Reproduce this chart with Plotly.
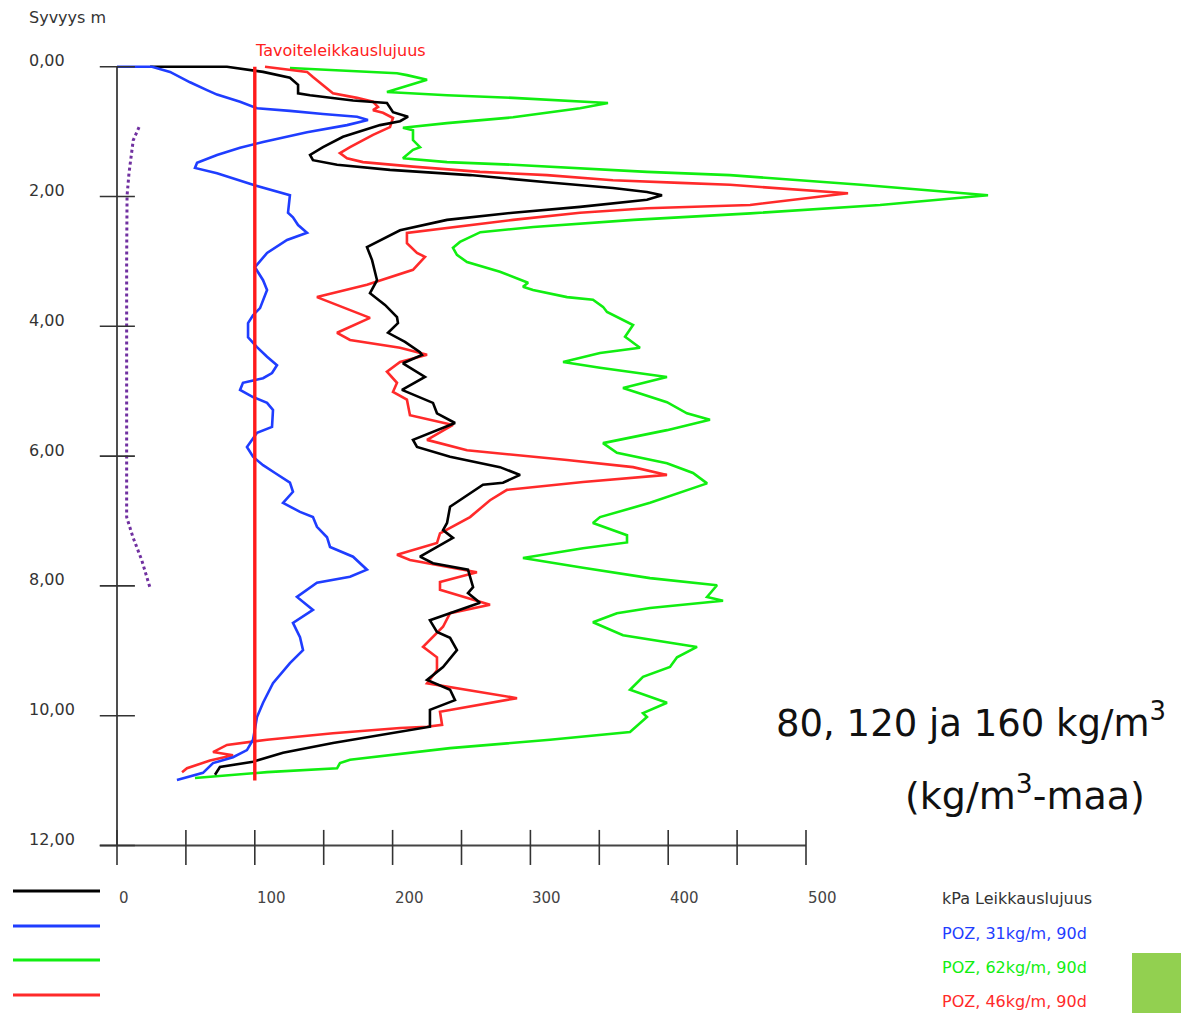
import plotly.graph_objects as go

# ---------------- data (kPa, depth m) ----------------
black_profile = [(24.0,0.00),(79.8,0.00),(106.0,0.08),(125.5,0.17),(131.4,0.28),(131.4,0.41),(140.1,0.44),(171.3,0.52),(195.9,0.56),(200.3,0.70),(211.2,0.77),(205.4,0.84),(190.9,0.90),(164.0,1.08),(149.5,1.24),(140.1,1.36),(142.2,1.44),(159.7,1.51),(198.1,1.59),(256.2,1.67),(312.0,1.78),(359.9,1.87),(384.6,1.93),(395.5,1.98),(384.6,2.05),(336.0,2.16),(287.4,2.25),(239.5,2.36),(205.4,2.52),(181.4,2.78),(185.1,2.98),(188.7,3.29),(183.6,3.49),(194.5,3.67),(203.2,3.86),(203.9,3.95),(196.7,4.10),(209.0,4.24),(219.9,4.40),(221.3,4.44),(207.5,4.57),(223.5,4.78),(206.8,4.98),(229.3,5.18),(232.2,5.34),(245.3,5.49),(214.8,5.75),(217.7,5.86),(241.7,6.01),(277.9,6.17),(292.5,6.29),(280.1,6.41),(265.6,6.44),(248.9,6.68),(241.7,6.78),(239.5,7.03),(236.6,7.14),(243.8,7.26),(219.9,7.55),(229.3,7.65),(254.7,7.75),(258.4,8.02),(254.7,8.11),(263.4,8.26),(241.7,8.42),(227.1,8.53),(232.2,8.71),(241.7,8.80),(246.7,8.99),(236.6,9.25),(225.0,9.45),(241.7,9.60),(245.3,9.76),(227.1,9.91),(227.1,10.17),(205.4,10.25),(156.7,10.42),(120.5,10.57),(98.7,10.71),(74.7,10.79),(71.1,10.91)]

blue_profile = [(0,0),(25.4,0),(38.5,0.08),(53.0,0.24),(65.3,0.36),(72.6,0.43),(89.3,0.54),(101.6,0.64),(125.5,0.68),(149.5,0.73),(174.2,0.77),(182.1,0.82),(166.9,0.90),(137.9,1.01),(106.0,1.16),(89.3,1.25),(72.6,1.36),(58.1,1.48),(56.6,1.56),(72.6,1.64),(98.7,1.82),(120.5,1.95),(125.5,1.98),(124.1,2.25),(127.7,2.32),(131.4,2.44),(137.9,2.56),(123.4,2.67),(108.9,2.87),(100.1,3.09),(106.0,3.29),(108.9,3.44),(106.0,3.59),(103.8,3.72),(98.7,3.83),(95.1,3.95),(95.1,4.17),(101.6,4.32),(108.9,4.47),(116.1,4.60),(112.5,4.72),(106.0,4.80),(91.4,4.87),(89.3,4.98),(98.7,5.09),(108.9,5.18),(113.2,5.29),(112.5,5.55),(101.6,5.64),(94.3,5.86),(98.7,6.01),(106.0,6.14),(114.7,6.26),(125.5,6.41),(127.7,6.55),(120.5,6.72),(132.8,6.86),(142.2,6.94),(145.1,7.09),(152.4,7.25),(154.6,7.40),(171.3,7.55),(181.4,7.75),(169.1,7.86),(145.1,7.95),(130.6,8.17),(142.2,8.37),(127.7,8.57),(132.8,8.79),(135.0,8.99),(125.5,9.19),(113.2,9.50),(106.0,9.80),(101.6,10.02),(98.7,10.37),(94.3,10.53),(84.2,10.64),(69.7,10.73),(62.4,10.88),(43.5,10.99)]

green_profile = [(125.5,0.02),(203.2,0.10),(210.4,0.13),(225.0,0.20),(195.9,0.39),(239.5,0.44),(287.4,0.48),(336.0,0.54),(356.3,0.56),(336.0,0.64),(287.4,0.78),(239.5,0.87),(207.5,0.94),(214.8,0.98),(214.8,1.13),(219.9,1.24),(214.8,1.28),(207.5,1.41),(239.5,1.47),(287.4,1.51),(336.0,1.56),(384.6,1.62),(444.8,1.67),(539.9,1.82),(632.1,1.98),(553.7,2.13),(459.7,2.26),(374.9,2.36),(302.2,2.47),(263.7,2.55),(248.9,2.70),(243.8,2.79),(246.7,2.90),(254.0,3.01),(277.9,3.16),(292.5,3.29),(298.3,3.33),(294.6,3.39),(301.9,3.44),(326.6,3.55),(345.4,3.59),(352.7,3.70),(355.6,3.78),(374.5,3.98),(368.7,4.16),(379.5,4.33),(350.5,4.41),(323.7,4.55),(350.5,4.64),(399.1,4.78),(367.2,4.95),(399.1,5.17),(413.6,5.34),(430.3,5.44),(399.1,5.60),(352.7,5.80),(362.8,5.95),(399.1,6.11),(418.0,6.26),(428.2,6.42),(386.8,6.72),(350.5,6.94),(345.4,7.03),(370.1,7.22),(370.1,7.33),(338.2,7.42),(294.6,7.57),(338.2,7.72),(386.8,7.88),(435.4,7.99),(428.2,8.17),(439.8,8.23),(386.8,8.34),(362.8,8.42),(345.4,8.56),(367.2,8.76),(420.9,8.94),(406.4,9.10),(401.3,9.25),(381.7,9.40),(372.3,9.60),(399.1,9.80),(381.7,9.96),(384.6,10.02),(372.3,10.25),(314.2,10.37),(241.7,10.50),(169.1,10.68),(161.8,10.73),(159.7,10.81),(108.9,10.87),(56.6,10.96)]

red_profile = [(107.4,0.00),(127.7,0.05),(137.9,0.08),(142.2,0.16),(149.5,0.28),(156.7,0.41),(174.2,0.48),(185.8,0.54),(189.4,0.62),(185.8,0.67),(193.0,0.71),(200.3,0.79),(198.1,0.93),(185.8,1.05),(169.1,1.24),(161.8,1.33),(166.9,1.41),(178.5,1.47),(214.8,1.54),(263.4,1.62),(312.0,1.67),(359.9,1.75),(408.6,1.79),(444.8,1.82),(530.5,1.95),(459.4,2.13),(384.6,2.18),(336.0,2.25),(287.4,2.36),(239.5,2.48),(210.4,2.56),(210.4,2.72),(217.7,2.87),(223.5,2.93),(214.8,3.13),(181.4,3.36),(145.1,3.55),(183.6,3.87),(159.7,4.10),(169.1,4.21),(205.4,4.33),(225.0,4.44),(205.4,4.55),(195.9,4.70),(203.2,4.87),(200.3,5.01),(210.4,5.13),(212.6,5.37),(243.8,5.52),(225.0,5.75),(254.0,5.91),(326.6,6.06),(374.5,6.17),(399.1,6.29),(338.2,6.40),(283.0,6.52),(270.7,6.68),(256.2,6.94),(239.5,7.14),(234.4,7.19),(232.2,7.34),(203.2,7.52),(212.6,7.60),(261.2,7.79),(234.4,7.94),(234.4,8.06),(270.7,8.29),(241.7,8.42),(236.6,8.63),(222.1,8.94),(232.2,9.10),(232.2,9.30),(225.0,9.50),(290.3,9.73),(234.4,9.94),(235.9,10.14),(225.0,10.17),(205.4,10.19),(156.7,10.27),(108.9,10.37),(79.8,10.45),(69.7,10.56),(84.2,10.61),(67.5,10.69),(50.8,10.81),(47.2,10.87)]

purple_profile = [(16.0,0.93),(11.8,1.13),(8.7,1.64),(7.3,1.99),(7.0,3.0),(7.0,6.94),(11.6,7.25),(17.9,7.60),(24.0,8.03)]

target_kpa = 100
target_depth = [0.0, 11.0]

depth_ticks = [0, 2, 4, 6, 8, 10, 12]
depth_labels = ["0,00", "2,00", "4,00", "6,00", "8,00", "10,00", "12,00"]
kpa_minor_ticks = [0, 50, 100, 150, 200, 250, 300, 350, 400, 450, 500]
kpa_labels = [0, 100, 200, 300, 400, 500]

legend_names = ["kPa Leikkauslujuus", "POZ, 31kg/m, 90d", "POZ, 62kg/m, 90d", "POZ, 46kg/m, 90d"]

# ---------------- styling ----------------
W, H = 1181, 1013
C_BLACK = "#000000"
C_BLUE = "#1f3dff"
C_GREEN = "#11ee11"
C_RED = "#ff2a2a"
C_PURPLE = "#7030a0"
FONT = "DejaVu Sans"

def pxx(x):
    return x / W

def pxy(y):
    return 1 - y / H

fig = go.Figure()

def add_profile(profile, color, width=2.6):
    xs = [p[0] for p in profile]
    ys = [p[1] for p in profile]
    fig.add_trace(go.Scatter(x=xs, y=ys, mode="lines",
                             line=dict(color=color, width=width),
                             showlegend=False, hoverinfo="skip"))

add_profile(green_profile, C_GREEN)
add_profile(red_profile, C_RED)
add_profile(black_profile, C_BLACK)
add_profile(blue_profile, C_BLUE)

fig.add_trace(go.Scatter(x=[p[0] for p in purple_profile], y=[p[1] for p in purple_profile],
                         mode="lines", line=dict(color=C_PURPLE, width=3, dash="dot"),
                         showlegend=False, hoverinfo="skip"))

fig.add_trace(go.Scatter(x=[target_kpa, target_kpa], y=target_depth, mode="lines",
                         line=dict(color="#ff1a1a", width=3.4),
                         showlegend=False, hoverinfo="skip"))

shapes = []
AX = "#222222"
shapes.append(dict(type="line", xref="x", yref="y", x0=0, x1=0, y0=0, y1=12,
                   line=dict(color=AX, width=1.6)))
shapes.append(dict(type="line", xref="x", yref="y", x0=-12.5, x1=500, y0=12, y1=12,
                   line=dict(color="#444444", width=2.2)))
for d in depth_ticks:
    shapes.append(dict(type="line", xref="x", yref="y", x0=-12.5, x1=13, y0=d, y1=d,
                       line=dict(color="#333333", width=1.6)))
for k in kpa_minor_ticks:
    shapes.append(dict(type="line", xref="x", yref="y", x0=k, x1=k, y0=11.76, y1=12.3,
                       line=dict(color="#333333", width=1.6)))

legend_colors = [C_BLACK, C_BLUE, C_GREEN, C_RED]
swatch_y = [891, 926, 960, 995]
for c, yy in zip(legend_colors, swatch_y):
    shapes.append(dict(type="line", xref="paper", yref="paper", x0=pxx(13), x1=pxx(100),
                       y0=pxy(yy), y1=pxy(yy), line=dict(color=c, width=3)))

shapes.append(dict(type="rect", xref="paper", yref="paper", x0=pxx(1132), x1=pxx(1181),
                   y0=pxy(1013), y1=pxy(953), fillcolor="#92d050", line=dict(width=0)))

annotations = []
annotations.append(dict(text="Syvyys m", xref="paper", yref="paper", x=pxx(27), y=pxy(17),
                        xanchor="left", yanchor="middle", showarrow=False,
                        font=dict(family=FONT, size=16, color="#333333")))
for d, lab in zip(depth_ticks, depth_labels):
    annotations.append(dict(text=lab, xref="paper", yref="y", x=pxx(27), y=d, yshift=6,
                            xanchor="left", yanchor="middle", showarrow=False,
                            font=dict(family=FONT, size=16, color="#333333")))
for k in kpa_labels:
    annotations.append(dict(text=str(k), xref="x", yref="paper", x=k, y=pxy(898),
                            xanchor="left", yanchor="middle", showarrow=False,
                            font=dict(family=FONT, size=15, color="#444444")))
annotations.append(dict(text="Tavoiteleikkauslujuus", xref="x", yref="paper", x=target_kpa, y=pxy(50),
                        xshift=-2, xanchor="left", yanchor="middle", showarrow=False,
                        font=dict(family=FONT, size=16, color="#ff2020")))
legend_text_colors = ["#333333", C_BLUE, C_GREEN, C_RED]
legend_text_y = [898, 933, 967, 1001]
for name, c, yy in zip(legend_names, legend_text_colors, legend_text_y):
    annotations.append(dict(text=name, xref="paper", yref="paper", x=pxx(940), y=pxy(yy),
                            xanchor="left", yanchor="middle", showarrow=False,
                            font=dict(family=FONT, size=16, color=c)))
annotations.append(dict(text="80, 120 ja 160 kg/m<sup>3</sup>", xref="paper", yref="paper",
                        x=pxx(774), y=pxy(720), xanchor="left", yanchor="middle", showarrow=False,
                        font=dict(family=FONT, size=37, color="#111111")))
annotations.append(dict(text="(kg/m<sup>3</sup>-maa)", xref="paper", yref="paper",
                        x=pxx(903), y=pxy(793), xanchor="left", yanchor="middle", showarrow=False,
                        font=dict(family=FONT, size=38, color="#111111")))

x0_px, kpa_per_px = 117, 1 / 1.378
y0_px, m_per_px = 66.7, 1 / 64.9
x_range = [(0 - x0_px) * kpa_per_px, (W - x0_px) * kpa_per_px]
y_range = [(H - y0_px) * m_per_px, (0 - y0_px) * m_per_px]

fig.update_layout(
    width=W, height=H,
    margin=dict(l=0, r=0, t=0, b=0, pad=0),
    plot_bgcolor="white", paper_bgcolor="white",
    xaxis=dict(range=x_range, visible=False, fixedrange=True),
    yaxis=dict(range=y_range, visible=False, fixedrange=True),
    shapes=shapes, annotations=annotations,
    showlegend=False,
)

fig.write_html("out.html", config={"displayModeBar": False},
               post_script="document.body.style.margin='0';document.body.style.overflow='hidden';")
